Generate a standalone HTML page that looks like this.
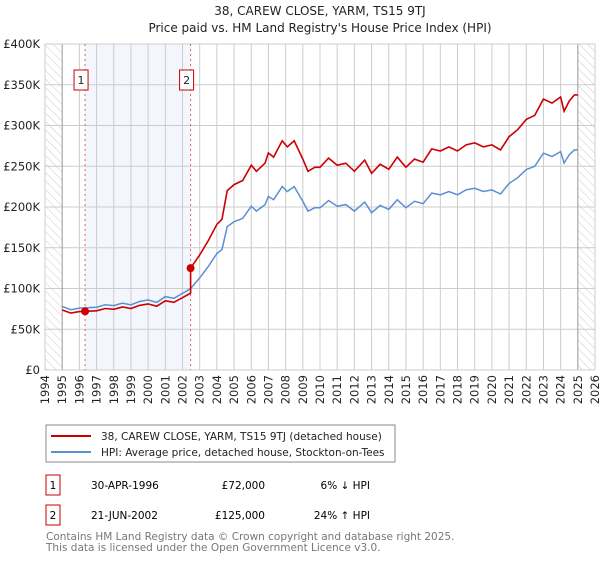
<!DOCTYPE html>
<html><head><meta charset="utf-8"><style>
body{margin:0;background:#fff;font-family:"DejaVu Sans","Liberation Sans",sans-serif;}
svg text{font-family:"DejaVu Sans","Liberation Sans",sans-serif;}
</style></head><body>
<svg id="chart" width="600" height="560" viewBox="0 0 600 560" xmlns="http://www.w3.org/2000/svg">
<defs>
<pattern id="hatch" width="6" height="6" patternUnits="userSpaceOnUse" patternTransform="rotate(-45)">
<line x1="0" y1="0" x2="0" y2="6" stroke="#ccc" stroke-width="1"/></pattern>
</defs>
<text x="320" y="15" text-anchor="middle" font-size="12" fill="#222">38, CAREW CLOSE, YARM, TS15 9TJ</text>
<text x="320" y="32" text-anchor="middle" font-size="12" fill="#222">Price paid vs. HM Land Registry's House Price Index (HPI)</text>
<g id="plot"></g>
<rect x="46" y="425" width="349" height="37" fill="#fff" stroke="#888"/>
<line x1="51" y1="436" x2="91" y2="436" stroke="#cc0000" stroke-width="2"/>
<text x="101" y="440" font-size="10.5" fill="#222">38, CAREW CLOSE, YARM, TS15 9TJ (detached house)</text>
<line x1="51" y1="452" x2="91" y2="452" stroke="#5b8fd4" stroke-width="2"/>
<text x="101" y="456" font-size="10.5" fill="#222">HPI: Average price, detached house, Stockton-on-Tees</text>
<rect x="46" y="475" width="14" height="20" fill="#fff" stroke="#cc0000"/>
<text x="53" y="489" text-anchor="middle" font-size="10.5">1</text>
<text x="91" y="489" font-size="10.5">30-APR-1996</text>
<text x="265" y="489" text-anchor="end" font-size="10.5">£72,000</text>
<text x="370" y="489" text-anchor="end" font-size="10.5">6% ↓ HPI</text>
<rect x="46" y="505" width="14" height="20" fill="#fff" stroke="#cc0000"/>
<text x="53" y="519" text-anchor="middle" font-size="10.5">2</text>
<text x="91" y="519" font-size="10.5">21-JUN-2002</text>
<text x="265" y="519" text-anchor="end" font-size="10.5">£125,000</text>
<text x="370" y="519" text-anchor="end" font-size="10.5">24% ↑ HPI</text>
<text x="46" y="540" font-size="10.5" fill="#777">Contains HM Land Registry data © Crown copyright and database right 2025.</text>
<text x="46" y="551" font-size="10.5" fill="#777">This data is licensed under the Open Government Licence v3.0.</text>
</svg>
<script>
const hpiYears=[1995,1995.5,1996,1997,1997.5,1998,1998.5,1999,1999.5,2000,2000.5,2001,2001.5,2002,2002.47,2003,2003.5,2004,2004.3,2004.6,2005,2005.5,2006,2006.3,2006.8,2007,2007.3,2007.8,2008.1,2008.5,2009,2009.3,2009.7,2010,2010.5,2011,2011.5,2012,2012.6,2013,2013.5,2014,2014.5,2015,2015.5,2016,2016.5,2017,2017.5,2018,2018.5,2019,2019.5,2020,2020.5,2021,2021.5,2022,2022.5,2023,2023.5,2024,2024.2,2024.5,2024.8,2025];
const hpiValues=[78,74,76,77,80,79,82,80,84,86,83,90,88,94,100,113,127,143,148,176,182,186,201,195,203,213,209,225,219,225,207,195,199,199,208,201,203,195,206,193,202,197,209,199,207,204,217,215,219,215,221,223,219,221,216,229,236,246,250,266,262,268,254,264,270,270];
const saleDates=[1996.33,2002.47];
const salePrices=[72,125];
const saleLabels=["1","2"];
const yTicks=[0,50,100,150,200,250,300,350,400];
const yTickLabels=["£0","£50K","£100K","£150K","£200K","£250K","£300K","£350K","£400K"];
const xTicks=[1994,1995,1996,1997,1998,1999,2000,2001,2002,2003,2004,2005,2006,2007,2008,2009,2010,2011,2012,2013,2014,2015,2016,2017,2018,2019,2020,2021,2022,2023,2024,2025,2026];

const NS="http://www.w3.org/2000/svg";
const X0=45,X1=595,Y0=370,Y1=44;
const xs=t=>X0+(t-1994)/32*(X1-X0);
const ys=v=>Y0-v/400*(Y0-Y1);
const g=document.getElementById('plot');
function mk(tag,attrs,parent){const e=document.createElementNS(NS,tag);for(const k in attrs)e.setAttribute(k,attrs[k]);(parent||g).appendChild(e);return e;}
function hpiAt(t){for(let i=0;i<hpiYears.length-1;i++){if(t<=hpiYears[i+1]){const f=(t-hpiYears[i])/(hpiYears[i+1]-hpiYears[i]);return hpiValues[i]+f*(hpiValues[i+1]-hpiValues[i]);}}return hpiValues[hpiValues.length-1];}

let e=mk('rect',{x:xs(saleDates[0]),y:Y1,width:xs(saleDates[1])-xs(saleDates[0]),height:Y0-Y1,fill:'#eef3fc',opacity:0.7});


e=mk('rect',{x:X0,y:Y1,width:xs(1995)-X0,height:Y0-Y1,fill:'url(#hatch)'});


e=mk('rect',{x:xs(2025),y:Y1,width:X1-xs(2025),height:Y0-Y1,fill:'url(#hatch)'});



yTicks.forEach((v,i)=>{
 const l=mk('line',{x1:X0,x2:X1,y1:ys(v),y2:ys(v),stroke:'#ccc','stroke-width':1});
 
 
 const t=mk('text',{x:X0-5,y:ys(v)+4,'text-anchor':'end','font-size':11.5,fill:'#222'});
 t.textContent=yTickLabels[i];
 
 
});
xTicks.forEach(yr=>{
 const l=mk('line',{x1:xs(yr),x2:xs(yr),y1:Y1,y2:Y0,stroke:(yr==1995||yr==2025)?'#999':'#ccc','stroke-width':1});
 
 
 const t=mk('text',{x:0,y:0,'text-anchor':'end','font-size':11.5,fill:'#222',transform:`translate(${xs(yr)+4},${Y0+5}) rotate(-90)`});
 t.textContent=yr;
 
 
});
e=mk('rect',{x:X0,y:Y1,width:X1-X0,height:Y0-Y1,fill:'none',stroke:'#ccc'});



saleDates.forEach((d,i)=>{
 const l=mk('line',{x1:xs(d),x2:xs(d),y1:Y1,y2:Y0,stroke:'#e06060','stroke-dasharray':'2,3','stroke-width':1});
 
 
 const r=mk('rect',{x:xs(d)-11,y:70,width:14,height:20,fill:'#fff',stroke:'#cc0000'});
 
 
 const t=mk('text',{x:xs(d)-4,y:84,'text-anchor':'middle','font-size':11,fill:'#222'});
 t.textContent=saleLabels[i];
 
 
});

const hp=hpiYears.map((t,i)=>`${xs(t).toFixed(1)},${ys(hpiValues[i]).toFixed(1)}`).join(' ');
e=mk('polyline',{points:hp,fill:'none',stroke:'#5b8fd4','stroke-width':1.5});



const pts=[];
hpiYears.forEach((t,i)=>{
 let k=-1;for(let j=0;j<saleDates.length;j++)if(t>=saleDates[j])k=j;
 if(k<0)k=0;
 const f=salePrices[k]/hpiAt(saleDates[k]);
 if(i>0&&hpiYears[i-1]<saleDates[1]&&t>=saleDates[1]){
  const f0=salePrices[0]/hpiAt(saleDates[0]);
  pts.push([saleDates[1],hpiAt(saleDates[1])*f0]);pts.push([saleDates[1],salePrices[1]]);
 }
 pts.push([t,hpiValues[i]*f]);
});
e=mk('polyline',{points:pts.map(p=>`${xs(p[0]).toFixed(1)},${ys(p[1]).toFixed(1)}`).join(' '),fill:'none',stroke:'#cc0000','stroke-width':1.6});


saleDates.forEach((d,i)=>{
 const c=mk('circle',{cx:xs(d),cy:ys(salePrices[i]),r:4,fill:'#cc0000'});
 
 
});
</script>
</body></html>
